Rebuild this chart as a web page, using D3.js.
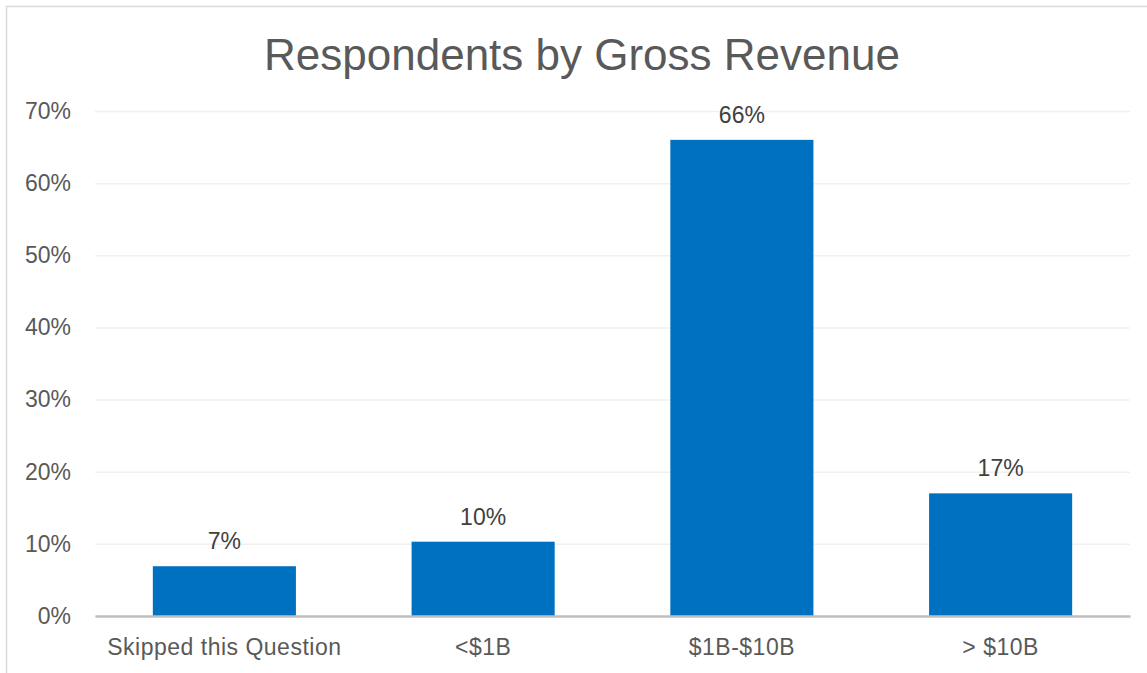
<!DOCTYPE html>
<html>
<head>
<meta charset="utf-8">
<script src="https://cdn.jsdelivr.net/npm/d3@7"></script>
<style>
  body { margin: 0; background: #fff; }
  svg { display: block; font-family: 'Liberation Sans', Arial, sans-serif; }
</style>
</head>
<body>
<div id="chart"></div>
<script>
// data
const categories = ['Skipped this Question', '<$1B', '$1B-$10B', '> $10B']
const values = [6.9, 10.3, 66, 17]
const labels = ['7%', '10%', '66%', '17%']
const yTicks = [0, 10, 20, 30, 40, 50, 60, 70]

const W = 1147, H = 673
const margin = { top: 111, right: 17, bottom: 57, left: 95 }
const width  = W - margin.left - margin.right
const height = H - margin.top - margin.bottom

const svg = d3.select('#chart')
    .append('svg')
    .attr('width', W)
    .attr('height', H)

// chart border
svg.append('rect')
    .attr('x', 6.5).attr('y', 6.5)
    .attr('width', W + 10).attr('height', H + 10)
    .attr('fill', 'none')
    .attr('stroke', '#d9d9d9')
    .attr('stroke-width', 1.5)

svg.append('text')
    .attr('x', 582)
    .attr('y', 70)
    .attr('text-anchor', 'middle')
    .style('font-size', '44px')
    .style('fill', '#595959')
    .text('Respondents by Gross Revenue')

const g = svg.append('g')
    .attr('transform', `translate(${margin.left},${margin.top})`)

const xScale = d3.scaleBand()
    .domain(categories)
    .range([0, width])
    .paddingInner(0.447)
    .paddingOuter(0.2235)

const yScale = d3.scaleLinear()
    .domain([0, 70])
    .range([height, 0])

// gridlines + y labels
g.append('g')
    .call(d3.axisLeft(yScale)
        .tickValues(yTicks)
        .tickSize(0)
        .tickPadding(24)
        .tickFormat(d => d + '%'))
    .call(a => a.select('.domain').remove())
    .call(a => a.selectAll('.tick line')
        .attr('x2', width)
        .attr('stroke', '#f0f0f0')
        .attr('stroke-width', 1.5))
    .selectAll('text')
        .style('font-size', '23px')
        .style('font-family', "'Liberation Sans', Arial, sans-serif")
        .style('fill', '#595959')

// bars
g.selectAll('.bar')
    .data(values)
    .join('rect')
    .attr('class', 'bar')
    .attr('x', (d, i) => xScale(categories[i]))
    .attr('width', xScale.bandwidth())
    .attr('y', d => yScale(d))
    .attr('height', d => yScale(0) - yScale(d))
    .attr('fill', '#0070c0')

// value labels
g.selectAll('.val')
    .data(values)
    .join('text')
    .attr('class', 'val')
    .attr('x', (d, i) => xScale(categories[i]) + xScale.bandwidth() / 2)
    .attr('y', d => yScale(d) - 17)
    .attr('text-anchor', 'middle')
    .style('font-size', '23px')
    .style('fill', '#404040')
    .text((d, i) => labels[i])

// x axis
g.append('g')
    .attr('transform', `translate(0,${height})`)
    .call(d3.axisBottom(xScale).tickSize(0).tickPadding(23))
    .call(a => a.select('.domain')
        .attr('stroke', '#bfbfbf')
        .attr('stroke-width', 2.5))
    .selectAll('text')
        .style('font-size', '23px')
        .style('letter-spacing', '0.5px')
        .style('font-family', "'Liberation Sans', Arial, sans-serif")
        .style('fill', '#595959')
</script>
</body>
</html>
